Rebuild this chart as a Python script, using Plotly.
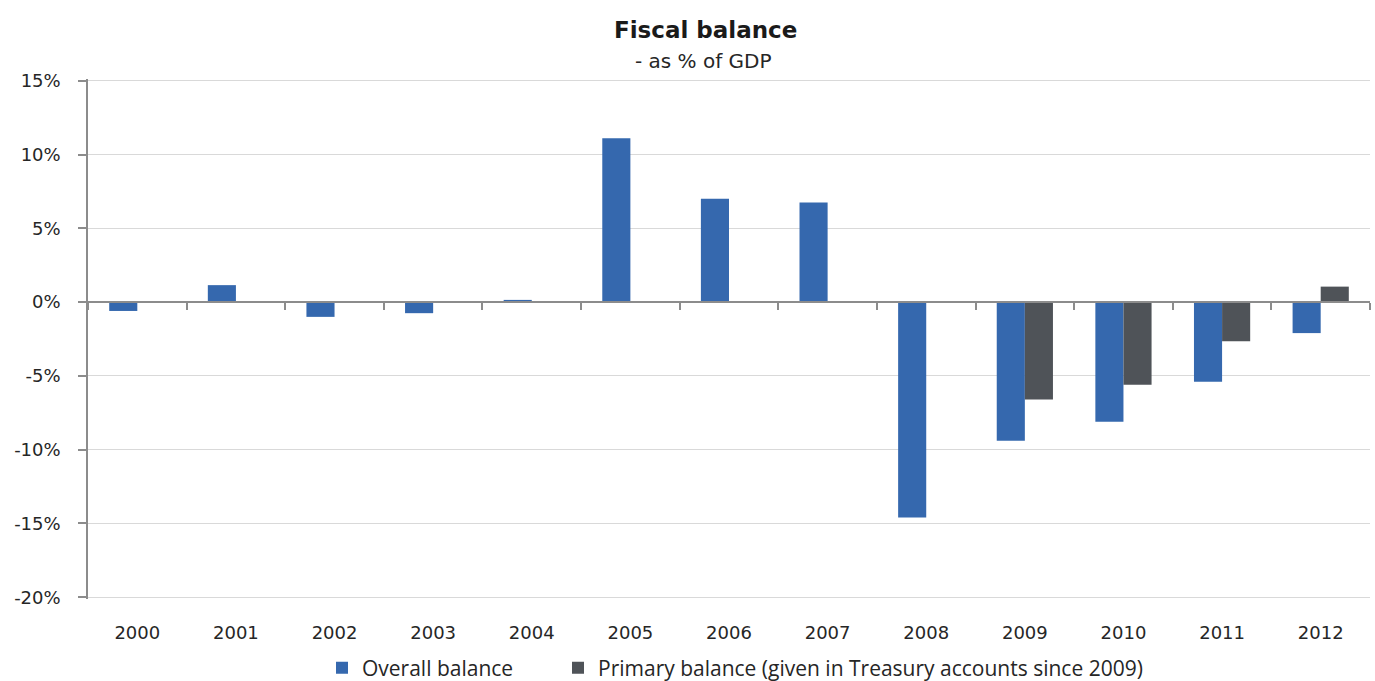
import plotly.graph_objects as go

years = ["2000", "2001", "2002", "2003", "2004", "2005", "2006",
         "2007", "2008", "2009", "2010", "2011", "2012"]
overall = [-0.6, 1.15, -1.0, -0.75, 0.15, 11.1, 7.0, 6.75, -14.6, -9.4, -8.1, -5.4, -2.1]
primary = [None, None, None, None, None, None, None, None, None, -6.6, -5.6, -2.65, 1.05]
yticks = [15, 10, 5, 0, -5, -10, -15, -20]
ytick_text = ["15%", "10%", "5%", "0%", "-5%", "-10%", "-15%", "-20%"]

ymin, ymax = -20.12, 15.12
zero_pos = (0 - ymin) / (ymax - ymin)
n = len(years)

fig = go.Figure()
fig.add_trace(go.Bar(x=years, y=overall, name="Overall balance", legend="legend",
                     marker=dict(color="#3568AE", line=dict(width=0))))
fig.add_trace(go.Bar(x=years, y=primary, legend="legend2",
                     name="Primary balance (given in Treasury accounts since 2009)",
                     marker=dict(color="#4F5358", line=dict(width=0))))
# invisible helper trace so the category axis line at zero is drawn
fig.add_trace(go.Scatter(x=list(range(n)), y=overall, xaxis="x2", mode="markers",
                         marker=dict(opacity=0), showlegend=False, hoverinfo="skip"))

L, R, T, B = 88, 5, 79, 82
W, H = 1375, 681


def px_to_paper(px, py):
    return (px - L) / (W - L - R), (H - B - py) / (H - T - B)


lx1, ly = px_to_paper(322, 668)
lx2, _ = px_to_paper(558, 668)
legend_font = dict(family="Open Sans", size=21, color="#262626")

fig.update_layout(
    width=W, height=H,
    margin=dict(l=L, r=R, t=T, b=B, autoexpand=False),
    paper_bgcolor="white", plot_bgcolor="white",
    barmode="group", bargap=0.43, bargroupgap=0,
    font=dict(family="DejaVu Sans", color="#262626"),
    showlegend=True,
    legend=dict(orientation="h", x=lx1, xanchor="left", y=ly, yanchor="middle",
                font=legend_font, itemwidth=30),
    legend2=dict(orientation="h", x=lx2, xanchor="left", y=ly, yanchor="middle",
                 font=legend_font, itemwidth=30),
    xaxis=dict(type="category", range=[-0.5, n - 0.5], showline=False,
               ticks="outside", ticklen=17, tickcolor="rgba(0,0,0,0)",
               showgrid=False, tickfont=dict(size=18, color="#262626")),
    xaxis2=dict(overlaying="x", anchor="free", position=zero_pos, side="bottom",
                range=[-0.5, n - 0.5], showline=True, linecolor="#8C8C8C", linewidth=1.5,
                ticks="outside", ticklen=7, tickcolor="#8C8C8C", tickwidth=1.5,
                tickvals=[i + 0.5 for i in range(-1, n)], showticklabels=False,
                showgrid=False, zeroline=False),
    yaxis=dict(range=[ymin, ymax], tickvals=yticks, ticktext=ytick_text,
               showgrid=True, gridcolor="#D9D9D9", gridwidth=1,
               showline=True, linecolor="#8C8C8C", linewidth=1.5,
               ticks="outside", ticklen=8, tickcolor="#8C8C8C", tickwidth=1.5,
               ticklabelstandoff=14,
               zeroline=False, tickfont=dict(size=18, color="#262626")),
)

tx, ty = px_to_paper(705, 30)
sx, sy = px_to_paper(703, 61)
fig.add_annotation(text="<b>Fiscal balance</b>", x=tx, y=ty, xref="paper", yref="paper",
                   xanchor="center", yanchor="middle", showarrow=False,
                   font=dict(family="DejaVu Sans", size=23, color="#1a1a1a"))
fig.add_annotation(text="- as % of GDP", x=sx, y=sy, xref="paper", yref="paper",
                   xanchor="center", yanchor="middle", showarrow=False,
                   font=dict(family="DejaVu Sans", size=20, color="#262626"))

fig.write_html("out.html")
